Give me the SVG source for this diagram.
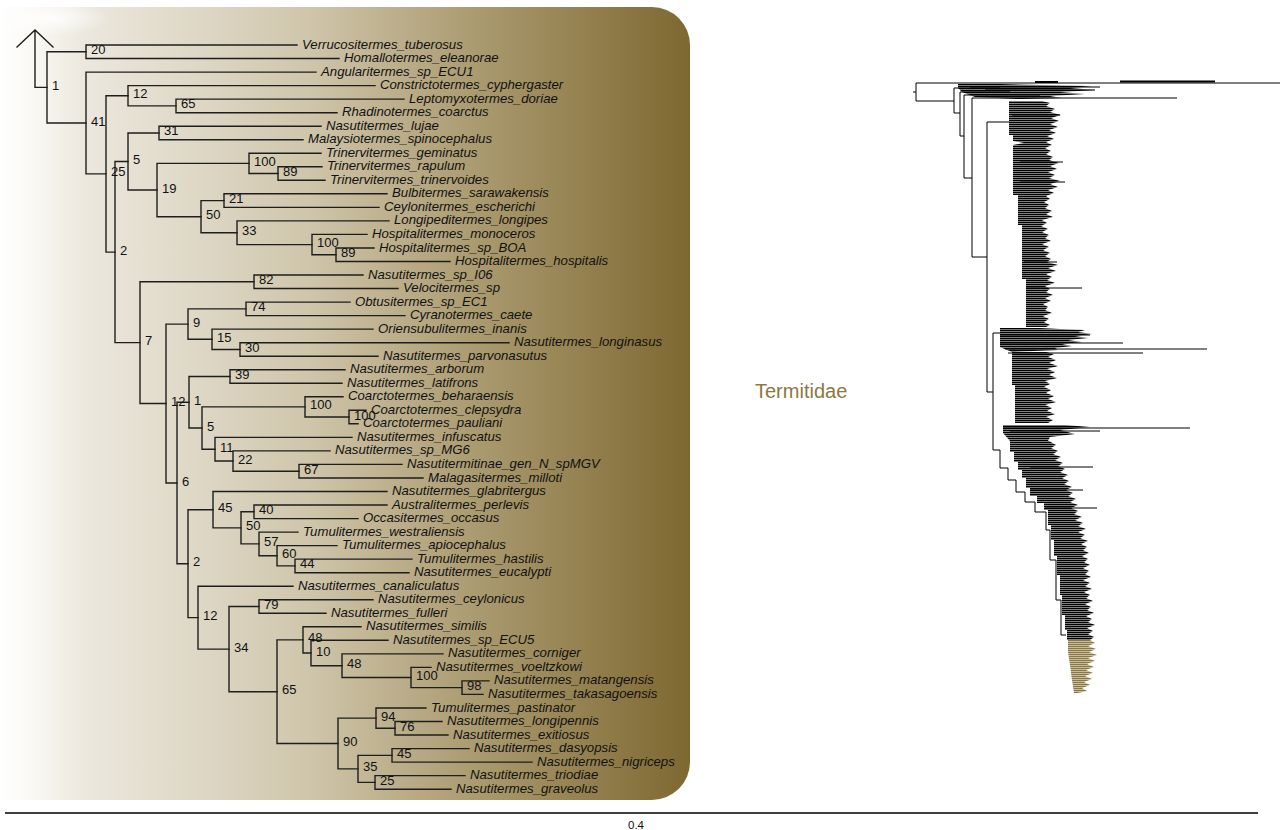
<svg xmlns="http://www.w3.org/2000/svg" width="1280" height="830" viewBox="0 0 1280 830">
<defs>
<linearGradient id="panel" x1="0" y1="0" x2="690" y2="0" gradientUnits="userSpaceOnUse">
<stop offset="0" stop-color="#ffffff"/>
<stop offset="0.04" stop-color="#fbfaf6"/>
<stop offset="0.12" stop-color="#ece8de"/>
<stop offset="0.3" stop-color="#ddd6c4"/>
<stop offset="0.45" stop-color="#cfc5aa"/>
<stop offset="0.68" stop-color="#ac9c72"/>
<stop offset="0.87" stop-color="#917d4b"/>
<stop offset="1" stop-color="#7d6831"/>
</linearGradient>
<radialGradient id="smudge" cx="0.5" cy="0.5" r="0.5">
<stop offset="0" stop-color="#ffffff" stop-opacity="0.9"/>
<stop offset="1" stop-color="#ffffff" stop-opacity="0"/>
</radialGradient>
<pattern id="hatch" width="4" height="2" patternUnits="userSpaceOnUse"><rect width="4" height="1.5" fill="#000"/></pattern>
<pattern id="hatchO" width="4" height="2" patternUnits="userSpaceOnUse"><rect width="4" height="1.5" fill="#8b7843"/></pattern>
<style>
.br{fill:none;stroke:#1e1e1e;stroke-width:1.4;stroke-linecap:square}
.tip{font-family:"Liberation Sans",Arial,sans-serif;font-style:italic;font-size:13.2px;fill:#111}
.bs{font-family:"Liberation Sans",Arial,sans-serif;font-size:13px;fill:#111}
.rt{fill:none;stroke:#000;stroke-width:1}
.cl{fill:url(#hatch)}
</style>
</defs>
<rect x="0" y="0" width="1280" height="830" fill="#ffffff"/>
<rect id="panel-bg" x="-40" y="7" width="730" height="793" rx="38" ry="38" fill="url(#panel)"/>
<ellipse cx="50" cy="18" rx="60" ry="18" fill="url(#smudge)"/>

<g id="connectors" class="br">
<path d="M17 47 L35 30 L53 47 M35 31 V87.4 H47"/>
<path d="M86 51.75 H47 V123 H86"/>
<path d="M297 45 H86 V58.5 H339"/>
<path d="M316 72.1 H86 V173.9 H106"/>
<path d="M128 95.75 H106 V252.1 H115"/>
<path d="M375 85.6 H128 V105.9 H176"/>
<path d="M404 99.1 H176 V112.7 H337"/>
<path d="M128 161.5 H115 V342.65 H140"/>
<path d="M159 132.95 H128 V190.05 H157"/>
<path d="M321 126.2 H159 V139.7 H303"/>
<path d="M249 163.4 H157 V216.7 H201"/>
<path d="M321 153.2 H249 V173.55 H278"/>
<path d="M322 166.8 H278 V180.3 H325"/>
<path d="M224 200.6 H201 V232.75 H237"/>
<path d="M387 193.8 H224 V207.4 H379"/>
<path d="M389 220.9 H237 V244.6 H312"/>
<path d="M367 234.4 H312 V254.75 H336"/>
<path d="M374 248 H336 V261.5 H450"/>
<path d="M254 281.75 H140 V403.55 H166"/>
<path d="M363 275 H254 V288.5 H398"/>
<path d="M188 324.1 H166 V483 H177"/>
<path d="M246 308.85 H188 V339.3 H212"/>
<path d="M350 302.1 H246 V315.6 H405"/>
<path d="M373 329.1 H212 V349.45 H240"/>
<path d="M509 342.7 H240 V356.2 H378"/>
<path d="M189 402.3 H177 V563.7 H188"/>
<path d="M230 376.5 H189 V428.05 H202"/>
<path d="M345 369.7 H230 V383.3 H342"/>
<path d="M305 406.9 H202 V449.2 H215"/>
<path d="M343 396.8 H305 V417.05 H349"/>
<path d="M366 410.3 H349 V423.8 H358"/>
<path d="M352 437.4 H215 V461.05 H233"/>
<path d="M330 450.9 H233 V471.2 H299"/>
<path d="M402 464.4 H299 V478 H423"/>
<path d="M213 509.7 H188 V617.65 H198"/>
<path d="M387 491.5 H213 V527.85 H241"/>
<path d="M254 511.8 H241 V543.9 H259"/>
<path d="M387 505 H254 V518.6 H358"/>
<path d="M298 532.1 H259 V555.75 H277"/>
<path d="M337 545.6 H277 V565.9 H295"/>
<path d="M412 559.1 H295 V572.7 H409"/>
<path d="M293 586.2 H198 V649.1 H229"/>
<path d="M259 606.5 H229 V691.7 H277"/>
<path d="M373 599.7 H259 V613.3 H326"/>
<path d="M303 639.9 H277 V743.5 H338"/>
<path d="M361 626.8 H303 V653 H311"/>
<path d="M388 640.3 H311 V665.7 H342"/>
<path d="M443 653.9 H342 V677.5 H411"/>
<path d="M431 667.4 H411 V687.65 H462"/>
<path d="M489 680.9 H462 V694.4 H483"/>
<path d="M376 718.1 H338 V768.9 H358"/>
<path d="M426 708 H376 V728.25 H395"/>
<path d="M442 721.5 H395 V735 H448"/>
<path d="M392 755.35 H358 V782.4 H375"/>
<path d="M469 748.6 H392 V762.1 H532"/>
<path d="M465 775.6 H375 V789.2 H451"/>
</g>

<g id="tips" class="tip">
<g id="t00"><text x="302" y="48.5">Verrucositermes_tuberosus</text></g>
<g id="t01"><text x="344" y="62">Homallotermes_eleanorae</text></g>
<g id="t02"><text x="321" y="75.6">Angularitermes_sp_ECU1</text></g>
<g id="t03"><text x="380" y="89.1">Constrictotermes_cyphergaster</text></g>
<g id="t04"><text x="409" y="102.6">Leptomyxotermes_doriae</text></g>
<g id="t05"><text x="342" y="116.2">Rhadinotermes_coarctus</text></g>
<g id="t06"><text x="326" y="129.7">Nasutitermes_lujae</text></g>
<g id="t07"><text x="308" y="143.2">Malaysiotermes_spinocephalus</text></g>
<g id="t08"><text x="326" y="156.7">Trinervitermes_geminatus</text></g>
<g id="t09"><text x="327" y="170.3">Trinervitermes_rapulum</text></g>
<g id="t10"><text x="330" y="183.8">Trinervitermes_trinervoides</text></g>
<g id="t11"><text x="392" y="197.3">Bulbitermes_sarawakensis</text></g>
<g id="t12"><text x="384" y="210.9">Ceylonitermes_escherichi</text></g>
<g id="t13"><text x="394" y="224.4">Longipeditermes_longipes</text></g>
<g id="t14"><text x="372" y="237.9">Hospitalitermes_monoceros</text></g>
<g id="t15"><text x="379" y="251.5">Hospitalitermes_sp_BOA</text></g>
<g id="t16"><text x="455" y="265">Hospitalitermes_hospitalis</text></g>
<g id="t17"><text x="368" y="278.5">Nasutitermes_sp_I06</text></g>
<g id="t18"><text x="403" y="292">Velocitermes_sp</text></g>
<g id="t19"><text x="355" y="305.6">Obtusitermes_sp_EC1</text></g>
<g id="t20"><text x="410" y="319.1">Cyranotermes_caete</text></g>
<g id="t21"><text x="378" y="332.6">Oriensubulitermes_inanis</text></g>
<g id="t22"><text x="514" y="346.2">Nasutitermes_longinasus</text></g>
<g id="t23"><text x="383" y="359.7">Nasutitermes_parvonasutus</text></g>
<g id="t24"><text x="350" y="373.2">Nasutitermes_arborum</text></g>
<g id="t25"><text x="347" y="386.8">Nasutitermes_latifrons</text></g>
<g id="t26"><text x="348" y="400.3">Coarctotermes_beharaensis</text></g>
<g id="t27"><text x="371" y="413.8">Coarctotermes_clepsydra</text></g>
<g id="t28"><text x="363" y="427.3">Coarctotermes_pauliani</text></g>
<g id="t29"><text x="357" y="440.9">Nasutitermes_infuscatus</text></g>
<g id="t30"><text x="335" y="454.4">Nasutitermes_sp_MG6</text></g>
<g id="t31"><text x="407" y="467.9">Nasutitermitinae_gen_N_spMGV</text></g>
<g id="t32"><text x="428" y="481.5">Malagasitermes_milloti</text></g>
<g id="t33"><text x="392" y="495">Nasutitermes_glabritergus</text></g>
<g id="t34"><text x="392" y="508.5">Australitermes_perlevis</text></g>
<g id="t35"><text x="363" y="522.1">Occasitermes_occasus</text></g>
<g id="t36"><text x="303" y="535.6">Tumulitermes_westraliensis</text></g>
<g id="t37"><text x="342" y="549.1">Tumulitermes_apiocephalus</text></g>
<g id="t38"><text x="417" y="562.6">Tumulitermes_hastilis</text></g>
<g id="t39"><text x="414" y="576.2">Nasutitermes_eucalypti</text></g>
<g id="t40"><text x="298" y="589.7">Nasutitermes_canaliculatus</text></g>
<g id="t41"><text x="378" y="603.2">Nasutitermes_ceylonicus</text></g>
<g id="t42"><text x="331" y="616.8">Nasutitermes_fulleri</text></g>
<g id="t43"><text x="366" y="630.3">Nasutitermes_similis</text></g>
<g id="t44"><text x="393" y="643.8">Nasutitermes_sp_ECU5</text></g>
<g id="t45"><text x="448" y="657.4">Nasutitermes_corniger</text></g>
<g id="t46"><text x="436" y="670.9">Nasutitermes_voeltzkowi</text></g>
<g id="t47"><text x="494" y="684.4">Nasutitermes_matangensis</text></g>
<g id="t48"><text x="488" y="697.9">Nasutitermes_takasagoensis</text></g>
<g id="t49"><text x="431" y="711.5">Tumulitermes_pastinator</text></g>
<g id="t50"><text x="447" y="725">Nasutitermes_longipennis</text></g>
<g id="t51"><text x="453" y="738.5">Nasutitermes_exitiosus</text></g>
<g id="t52"><text x="474" y="752.1">Nasutitermes_dasyopsis</text></g>
<g id="t53"><text x="537" y="765.6">Nasutitermes_nigriceps</text></g>
<g id="t54"><text x="470" y="779.1">Nasutitermes_triodiae</text></g>
<g id="t55"><text x="456" y="792.7">Nasutitermes_graveolus</text></g>
</g>

<g id="support" class="bs">
<g id="n1"><text x="52" y="89.9">1</text></g>
<g id="n20"><text x="91" y="54.25">20</text></g>
<g id="n41"><text x="91" y="125.5">41</text></g>
<g id="n25"><text x="111" y="176.4">25</text></g>
<g id="n12"><text x="133" y="98.25">12</text></g>
<g id="n65"><text x="181" y="108.4">65</text></g>
<g id="n2"><text x="120" y="254.6">2</text></g>
<g id="n5"><text x="133" y="164">5</text></g>
<g id="n31"><text x="164" y="135.45">31</text></g>
<g id="n19"><text x="162" y="192.55">19</text></g>
<g id="n100a"><text x="254" y="165.9">100</text></g>
<g id="n89a"><text x="283" y="176.05">89</text></g>
<g id="n50"><text x="206" y="219.2">50</text></g>
<g id="n21"><text x="229" y="203.1">21</text></g>
<g id="n33"><text x="242" y="235.25">33</text></g>
<g id="n100b"><text x="317" y="247.1">100</text></g>
<g id="n89b"><text x="341" y="257.25">89</text></g>
<g id="n7"><text x="145" y="345.15">7</text></g>
<g id="n82"><text x="259" y="284.25">82</text></g>
<g id="n12b"><text x="171" y="406.05">12</text></g>
<g id="n9"><text x="193" y="326.6">9</text></g>
<g id="n74"><text x="251" y="311.35">74</text></g>
<g id="n15"><text x="217" y="341.8">15</text></g>
<g id="n30"><text x="245" y="351.95">30</text></g>
<g id="n6"><text x="182" y="485.5">6</text></g>
<g id="n1b"><text x="194" y="404.8">1</text></g>
<g id="n39"><text x="235" y="379">39</text></g>
<g id="n5b"><text x="207" y="430.55">5</text></g>
<g id="n100c"><text x="310" y="409.4">100</text></g>
<g id="n100d"><text x="354" y="419.55">100</text></g>
<g id="n11"><text x="220" y="451.7">11</text></g>
<g id="n22"><text x="238" y="463.55">22</text></g>
<g id="n67"><text x="304" y="473.7">67</text></g>
<g id="n2b"><text x="193" y="566.2">2</text></g>
<g id="n45"><text x="218" y="512.2">45</text></g>
<g id="n50b"><text x="246" y="530.35">50</text></g>
<g id="n40"><text x="259" y="514.3">40</text></g>
<g id="n57"><text x="264" y="546.4">57</text></g>
<g id="n60"><text x="282" y="558.25">60</text></g>
<g id="n44"><text x="300" y="568.4">44</text></g>
<g id="n12c"><text x="203" y="620.15">12</text></g>
<g id="n34"><text x="234" y="651.6">34</text></g>
<g id="n79"><text x="264" y="609">79</text></g>
<g id="n65b"><text x="282" y="694.2">65</text></g>
<g id="n48a"><text x="308" y="642.4">48</text></g>
<g id="n10"><text x="316" y="655.5">10</text></g>
<g id="n48b"><text x="347" y="668.2">48</text></g>
<g id="n100e"><text x="416" y="680">100</text></g>
<g id="n98"><text x="467" y="690.15">98</text></g>
<g id="n90"><text x="343" y="746">90</text></g>
<g id="n94"><text x="381" y="720.6">94</text></g>
<g id="n76"><text x="400" y="730.75">76</text></g>
<g id="n35"><text x="363" y="771.4">35</text></g>
<g id="n45b"><text x="397" y="757.85">45</text></g>
<g id="n25b"><text x="380" y="784.9">25</text></g>
</g>

<g id="termitidae-label"><text x="755" y="398" font-family="Liberation Sans, Arial, sans-serif" font-size="20" fill="#8b7843">Termitidae</text></g>

<g id="overview-tree">
<path class="rt" d="M913 92 H916 M916 83 V101 M916 83 H1280 M916 101 H954 M954 88 V113 M954 113 H960 M960 92 V136 M960 136 H964 M964 95 V178 M964 178 H972 M972 98 V257 M972 257 H987 M987 122 V392 M987 122 H1009 M987 392 H993 M993 333 V450 M993 333 H1000 M993 450 H1000"/>
<polygon class="cl" points="958,84 1000,84 1040,85 1092,86 1070,88 1095,90 1060,92 1085,94 1050,96 1062,98 1020,99 975,97 962,92 958,88"/>
<path class="rt" d="M954 88 H1000 M960 92 H1010 M964 95 H1040 M972 98 H1177 M970 87 H1100 M985 90 H1095"/>
<path d="M1035 82 H1058 M1120 81.5 H1215" stroke="#000" stroke-width="2.2" fill="none"/>
<polygon class="cl" points="1009,101 1009,135 1013,135 1013,141 1024,143 1013,145 1013,195 1018,195 1018,225 1022,225 1022,279 1026,279 1026,327 1046,327 1050,325 1044,322 1049,319 1043,316 1052,313 1045,310 1048,307 1043,304 1051,301 1045,298 1053,295 1046,292 1050,289 1045,286 1055,283 1047,280 1052,277 1046,274 1056,271 1048,268 1058,265 1047,262 1051,259 1045,256 1050,253 1043,250 1049,247 1042,244 1051,241 1045,238 1049,235 1042,232 1048,229 1041,226 1047,223 1042,220 1053,217 1046,214 1052,211 1045,208 1049,205 1044,202 1050,199 1046,196 1054,193 1048,190 1058,187 1050,184 1060,181 1049,178 1055,175 1048,172 1057,169 1050,166 1059,163 1049,160 1053,157 1046,154 1051,151 1045,148 1052,145 1046,142 1054,139 1047,136 1056,133 1049,130 1058,127 1050,124 1059,121 1051,118 1061,115 1050,112 1055,109 1046,106 1050,103 1042,101"/>
<path class="rt" d="M1020 162 H1063 M1020 182 H1065 M1024 262 H1057 M1026 288 H1082 M1012 115 H1060"/>
<polygon class="cl" points="1000,328 1040,328 1060,329 1085,330 1078,332 1092,334 1075,336 1088,338 1068,340 1082,342 1062,344 1072,346 1055,348 1058,350 1012,352 1000,347"/>
<path class="rt" d="M1000 343 H1123 M1005 349 H1207 M1008 353 H1143 M1000 335 H1090"/>
<polygon class="cl" points="1012,352 1012,385 1015,385 1015,423 1048,423 1053,420 1046,417 1055,414 1047,411 1052,408 1045,405 1056,402 1048,399 1054,396 1046,393 1051,390 1044,387 1050,384 1045,381 1057,378 1049,375 1055,372 1047,369 1058,366 1049,363 1056,360 1048,357 1054,354 1046,352"/>
<polygon class="cl" points="1003,425 1065,425 1090,427 1060,430 1075,434 1050,437 1048,441 1010,441 1003,433"/>
<path class="rt" d="M1003 428 H1190 M1010 431 H1100"/>
<polygon class="cl" points="1010,441 1010,452 1014,452 1014,462 1018,462 1018,470 1022,470 1022,478 1026,478 1026,488 1030,488 1030,496 1037,496 1037,503 1044,503 1044,510 1048,510 1048,525 1051,525 1051,540 1054,540 1054,556 1057,556 1057,575 1060,575 1060,595 1062,595 1062,615 1065,615 1065,630 1067,630 1067,640 1090,640 1094,637 1088,634 1093,631 1087,628 1095,625 1088,622 1092,619 1086,616 1094,613 1087,610 1091,607 1085,604 1093,601 1086,598 1090,595 1084,592 1092,589 1085,586 1090,583 1083,580 1091,577 1085,574 1089,571 1083,568 1090,565 1084,562 1088,559 1082,556 1089,553 1083,550 1087,547 1081,544 1088,541 1080,538 1085,535 1078,532 1086,529 1078,526 1083,523 1075,520 1082,517 1074,514 1078,511 1071,508 1078,505 1070,502 1076,499 1068,496 1073,493 1066,490 1072,487 1064,484 1069,481 1062,478 1068,475 1060,472 1065,469 1058,466 1063,463 1055,460 1061,457 1053,454 1058,451 1051,448 1056,445 1049,441"/>
<path class="rt" d="M1030 467 H1093 M1045 508 H1097 M1030 490 H1083 M1000 450 V468 H1008 V480 H1016 V492 H1025 V502 H1035 V512 H1046 V530 H1050 V560 H1056 V600 H1061 V635 H1066"/>
<polygon fill="url(#hatchO)" points="1068,640 1090,640 1095,643 1088,646 1096,649 1089,652 1097,655 1088,658 1095,661 1087,664 1094,667 1086,670 1093,673 1085,676 1092,679 1084,682 1090,685 1082,688 1087,691 1078,693 1074,693 1072,680 1070,665 1068,652"/>
</g>

<g id="scale-bar">
<line x1="5" y1="813" x2="1258" y2="813" stroke="#000" stroke-width="1.5"/>
<text x="636" y="829" text-anchor="middle" font-family="Liberation Sans, Arial, sans-serif" font-size="11.5" fill="#111">0.4</text>
</g>
</svg>
